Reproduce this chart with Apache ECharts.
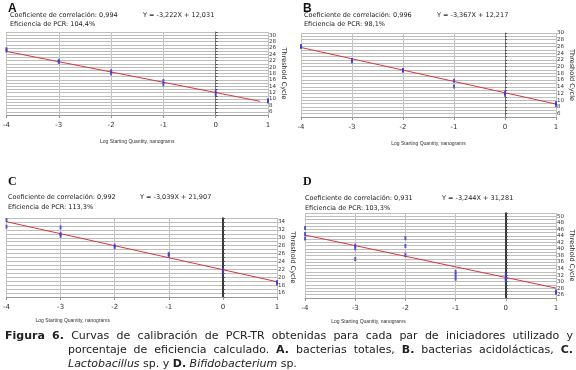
<!DOCTYPE html>
<html>
<head>
<meta charset="utf-8">
<script src="https://cdn.jsdelivr.net/npm/echarts@6/dist/echarts.min.js"></script>
<style>
  html, body { margin: 0; padding: 0; background: #fff; }
  #chart { width: 576px; height: 370px; }
</style>
</head>
<body>
<div id="chart"></div>
<script>
// x positions (log ng) shared by the panels
var xTicks = [-4, -3, -2, -1, 0, 1];

// A - bacterias totales
var aX = [-4, -4, -3, -3, -2, -2, -1, -1, 0, 0, 1, 1];
var aY = [25.6, 25.2, 22.0, 21.6, 18.7, 18.0, 15.6, 14.6, 12.4, 11.4, 9.6, 9.2];
var aFit = [-3.222, 12.031];   // slope, intercept
var aFitRange = [-4, 0.85];

// B - bacterias acidolacticas
var bX = [-4, -4, -3, -3, -2, -2, -1, -1, 0, 0, 1, 1];
var bY = [26.1, 25.8, 22.0, 21.5, 19.0, 18.8, 15.8, 14.1, 12.3, 11.6, 9.2, 8.6];
var bFit = [-3.367, 12.217];
var bFitRange = [-4, 1];

// C - Lactobacillus sp.
var cX = [-4, -4, -3, -3, -3, -2, -2, -1, -1, 0, 0, 1, 1];
var cY = [34.5, 32.8, 32.6, 31.0, 30.5, 28.0, 27.6, 25.9, 25.5, 22.0, 21.2, 18.8, 18.4];
var cFit = [-3.039, 21.907];
var cFitRange = [-4, 1];

// D - Bifidobacterium sp.
var dX = [-4, -4, -4, -3, -3, -3, -2, -2, -2, -1, -1, -1, 0, 0, 0, 1, 1];
var dY = [46.4, 44.6, 43.2, 41.0, 40.2, 36.9, 43.3, 40.9, 38.2, 33.0, 32.0, 30.9, 32.4, 31.0, 30.4, 27.0, 26.6];
var dFit = [-3.244, 31.281];
var dFitRange = [-4, 1];

var panelTexts = [
  { letter: 'A', r: 'Coeficiente de correlación: 0,994', eq: 'Y = -3,222X + 12,031', ef: 'Eficiencia de PCR: 104,4%' },
  { letter: 'B', r: 'Coeficiente de correlación: 0,996', eq: 'Y = -3,367X + 12,217', ef: 'Eficiencia de PCR: 98,1%' },
  { letter: 'C', r: 'Coeficiente de correlación: 0,992', eq: 'Y = -3,039X + 21,907', ef: 'Eficiencia de PCR: 113,3%' },
  { letter: 'D', r: 'Coeficiente de correlación: 0,931', eq: 'Y = -3,244X + 31,281', ef: 'Eficiencia de PCR: 103,3%' }
];

var yRanges = [[5, 31], [5, 30], [15, 35], [25, 51]];

var chart = echarts.init(document.getElementById('chart'), null, { renderer: 'canvas' });

var grids = [
  { left: 3, top: 32, width: 265, height: 83 },
  { left: 301, top: 33, width: 269, height: 84 },
  { left: 3, top: 218, width: 274, height: 79 },
  { left: 305, top: 213, width: 268, height: 85 }
];

var xName = 'Log Starting Quantity, nanograms';
var xAxes = grids.map(function (g, i) {
  var pad = [0, 0, 0, 0];
  if (i === 2) pad = [0, 138, 0, 0];
  if (i === 3) pad = [0, 124, 0, 0];
  return {
    gridIndex: i, type: 'value', min: -4, max: 1, interval: 1,
    name: xName, nameLocation: 'middle', nameGap: i < 2 ? 24 : 21,
    nameTextStyle: { fontFamily: 'Liberation Sans', fontSize: 5, color: '#333', padding: pad },
    axisLine: { onZero: false, lineStyle: { color: '#999', width: 1 } },
    axisTick: { show: true, length: 3, lineStyle: { color: '#999' } },
    axisLabel: { fontSize: 7, color: '#333', margin: 7, fontFamily: 'DejaVu Sans' },
    splitLine: { show: true, lineStyle: { color: '#c4c4c4', width: 1 } }
  };
});

var yAxes = grids.map(function (g, i) {
  var dark = i >= 2;
  return {
    gridIndex: i, type: 'value', position: 'right',
    min: yRanges[i][0], max: yRanges[i][1], interval: 1,
    name: 'Threshold Cycle', nameLocation: 'middle', nameRotate: -90, nameGap: 12,
    nameTextStyle: { fontFamily: 'DejaVu Sans', fontSize: 6.5, color: '#222' },
    axisLine: { onZero: true, lineStyle: { color: dark ? '#000' : '#777', width: dark ? 1.5 : 1 } },
    axisTick: { show: true, length: 2, lineStyle: { color: '#555' } },
    axisLabel: {
      fontSize: 5.5, color: '#333', margin: 1, fontFamily: 'DejaVu Sans',
      formatter: function (v) { return v % 2 === 0 ? String(v) : ''; }
    },
    splitLine: { show: true, lineStyle: { color: '#bdbdbd', width: 1 } }
  };
});

function points(xs, ys) {
  return xs.map(function (x, k) { return [x, ys[k]]; });
}
function fitLine(fit, range) {
  return range.map(function (x) { return [x, fit[0] * x + fit[1]]; });
}

var sets = [[aX, aY, aFit, aFitRange], [bX, bY, bFit, bFitRange], [cX, cY, cFit, cFitRange], [dX, dY, dFit, dFitRange]];
var series = [];
sets.forEach(function (s, i) {
  series.push({
    type: 'line', xAxisIndex: i, yAxisIndex: i, data: fitLine(s[2], s[3]),
    symbol: 'none', lineStyle: { color: '#d8363f', width: 1 }, silent: true, z: 3
  });
  series.push({
    type: 'scatter', xAxisIndex: i, yAxisIndex: i, data: points(s[0], s[1]),
    symbol: 'rect', symbolSize: [2, 4], itemStyle: { color: '#3a3ad6' }, z: 4
  });
});

// panel headers
var heads = [
  { lx: 8, ly: 8, tx: 10, ty1: 15.5, ty2: 24.5, ex: 143, serif: false },
  { lx: 303, ly: 8, tx: 304, ty1: 15.5, ty2: 24.5, ex: 437, serif: false },
  { lx: 8, ly: 181, tx: 8, ty1: 197, ty2: 207, ex: 140, serif: true },
  { lx: 303, ly: 181, tx: 305, ty1: 198, ty2: 208, ex: 442, serif: true }
];
var graphics = [];
heads.forEach(function (h, i) {
  var t = panelTexts[i];
  var small = { fontFamily: 'DejaVu Sans', fontSize: 6.5, fill: '#222', verticalAlign: 'middle' };
  graphics.push({ type: 'text', left: h.lx, top: h.ly - 5, style: {
    text: t.letter, fontFamily: h.serif ? 'Liberation Serif' : 'Liberation Sans',
    fontWeight: 'bold', fontSize: 12, fill: '#111' } });
  graphics.push({ type: 'text', x: h.tx, y: h.ty1, style: Object.assign({ text: t.r }, small) });
  graphics.push({ type: 'text', x: h.ex, y: h.ty1, style: Object.assign({ text: t.eq }, small) });
  graphics.push({ type: 'text', x: h.tx, y: h.ty2, style: Object.assign({ text: t.ef }, small) });
});

// caption, justified word by word
var capLines = [
  { x0: 5, x1: 573, y: 336, justify: true, words: [
    ['Figura', 'b'], ['6.', 'b'], ['Curvas'], ['de'], ['calibración'], ['de'], ['PCR-TR'], ['obtenidas'],
    ['para'], ['cada'], ['par'], ['de'], ['iniciadores'], ['utilizado'], ['y']] },
  { x0: 68, x1: 573, y: 350, justify: true, words: [
    ['porcentaje'], ['de'], ['eficiencia'], ['calculado.'], ['A.', 'b'], ['bacterias'], ['totales,'],
    ['B.', 'b'], ['bacterias'], ['acidolácticas,'], ['C.', 'b']] },
  { x0: 68, x1: 573, y: 364, justify: false, words: [
    ['Lactobacillus', 'i'], ['sp.'], ['y'], ['D.', 'b'], ['Bifidobacterium', 'i'], ['sp.']] }
];
var capSize = 11;
var ctx = document.createElement('canvas').getContext('2d');
function fontOf(st) {
  return (st === 'i' ? 'italic ' : '') + (st === 'b' ? 'bold ' : '') + capSize + 'px "DejaVu Sans"';
}
capLines.forEach(function (ln) {
  var widths = ln.words.map(function (w) { ctx.font = fontOf(w[1]); return ctx.measureText(w[0]).width; });
  var total = widths.reduce(function (a, b) { return a + b; }, 0);
  ctx.font = fontOf();
  var gap = ln.justify ? (ln.x1 - ln.x0 - total) / (ln.words.length - 1) : ctx.measureText(' ').width;
  var x = ln.x0;
  ln.words.forEach(function (w, k) {
    graphics.push({ type: 'text', x: x, y: ln.y, style: {
      text: w[0], fontFamily: 'DejaVu Sans', fontSize: capSize,
      fontWeight: w[1] === 'b' ? 'bold' : 'normal', fontStyle: w[1] === 'i' ? 'italic' : 'normal',
      fill: '#222', verticalAlign: 'middle' } });
    x += widths[k] + gap;
  });
});

chart.setOption({
  backgroundColor: '#fff',
  animation: false,
  grid: grids,
  xAxis: xAxes,
  yAxis: yAxes,
  series: series,
  graphic: graphics
});
</script>
</body>
</html>
